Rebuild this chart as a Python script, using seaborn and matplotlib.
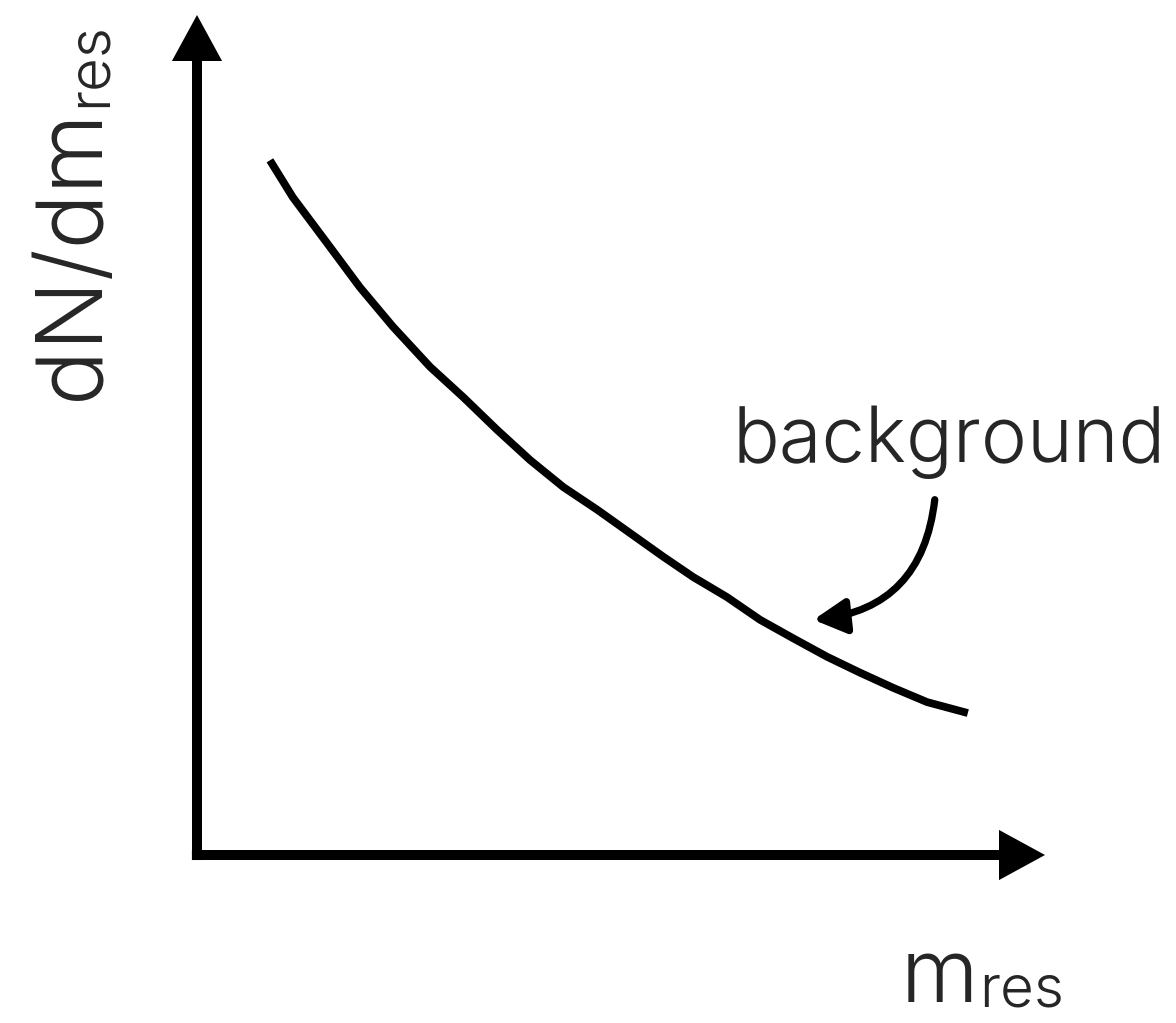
import numpy as np
import pandas as pd
import matplotlib.pyplot as plt
import seaborn as sns

# background shape (arbitrary units, both axes run 0..10)
m_res = [0.86, 1.13, 1.53, 1.92, 2.31, 2.75, 3.14, 3.54, 3.93, 4.32, 4.72,
         5.11, 5.50, 5.85, 6.25, 6.64, 7.03, 7.43, 7.82, 8.21, 8.61, 9.09]
dn_dm = [8.27, 7.83, 7.29, 6.76, 6.29, 5.81, 5.45, 5.06, 4.70, 4.38, 4.11,
         3.83, 3.55, 3.31, 3.07, 2.80, 2.58, 2.36, 2.17, 1.99, 1.82, 1.69]

label_text = "background"
x_label = "m"
y_label = "dN/dm"
sub = "res"

sns.set_theme(style="white")
plt.rcParams["font.family"] = ["Inter", "DejaVu Sans"]
plt.rcParams["font.weight"] = 300

df = pd.DataFrame({"m_res": m_res, "dN": dn_dm})

fig = plt.figure(figsize=(11.76, 10.23), dpi=100)
# axes box spans from the origin to the arrow tips
ax = fig.add_axes([197 / 1176, (1023 - 855) / 1023, (1045 - 197) / 1176, (855 - 15) / 1023])

# axis arrows
axis_arrow = dict(
    arrowstyle="-|>,head_length=0.55,head_width=0.3",
    lw=7.2,
    color="black",
    mutation_scale=40,
    shrinkA=0,
    shrinkB=0,
    joinstyle="miter",
    capstyle="butt",
)
ax.annotate("", xy=(0, 10), xytext=(0, -0.06), arrowprops=axis_arrow, annotation_clip=False)
ax.annotate("", xy=(10, 0), xytext=(-0.06, 0), arrowprops=axis_arrow, annotation_clip=False)

# background curve
sns.lineplot(
    data=df, x="m_res", y="dN", color="black", linewidth=5.6, sort=False,
    estimator=None, ax=ax, solid_capstyle="butt", solid_joinstyle="round",
)
ax.set_xlim(0, 10)
ax.set_ylim(0, 10)
ax.axis("off")

# curved pointer to the curve
ax.annotate(
    "",
    xy=(7.27, 2.80),
    xytext=(8.70, 4.23),
    arrowprops=dict(
        arrowstyle="-|>,head_length=0.65,head_width=0.35",
        lw=5.2,
        color="black",
        mutation_scale=30,
        shrinkA=0,
        shrinkB=0,
        connectionstyle="arc3,rad=-0.4",
    ),
)

# labels
ax.text(6.32, 4.68, label_text, fontsize=56, ha="left", va="baseline")

ax.text(8.30, -1.75, x_label, fontsize=64, ha="left", va="baseline", clip_on=False)
ax.text(9.22, -1.80, sub, fontsize=42, ha="left", va="baseline", clip_on=False)

ax.text(-1.167, 5.417, y_label, fontsize=66, rotation=90, rotation_mode="anchor",
        ha="left", va="baseline", clip_on=False)
ax.text(-1.073, 8.90, sub, fontsize=42, rotation=90, rotation_mode="anchor",
        ha="left", va="baseline", clip_on=False)

plt.savefig("out.png", dpi=100, facecolor="white")
